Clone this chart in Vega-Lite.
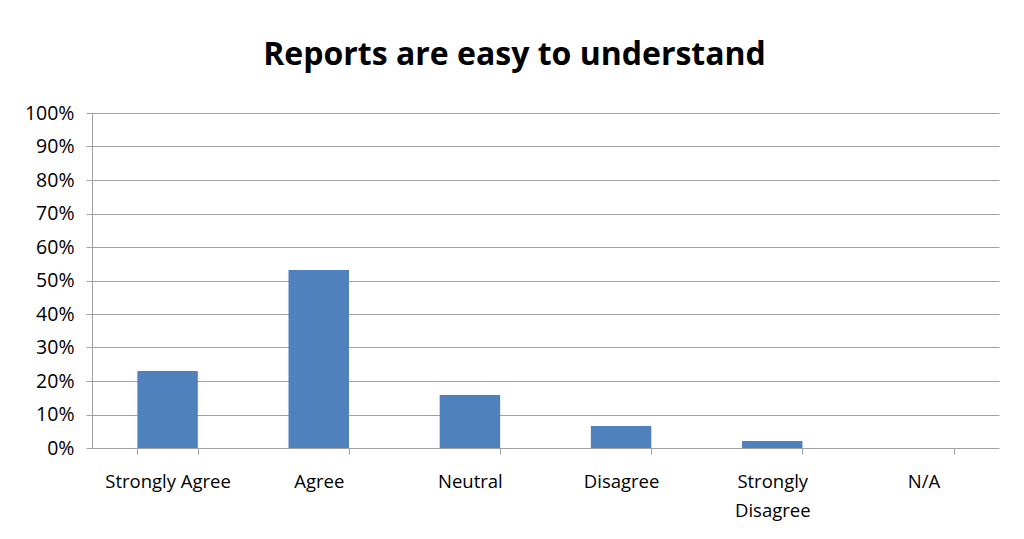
{
  "$schema": "https://vega.github.io/schema/vega-lite/v6.json",
  "autosize": {"type": "none"},
  "width": 907,
  "height": 335,
  "padding": {"left": 92, "top": 113, "right": 25, "bottom": 91},
  "background": "white",
  "title": {
    "text": "Reports are easy to understand",
    "font": "Open Sans",
    "fontSize": 32,
    "fontWeight": "bold",
    "color": "#000000",
    "anchor": "middle",
    "dx": -31,
    "offset": 31
  },
  "data": {
    "values": [
      {"response": "Strongly Agree", "pct": 0.23},
      {"response": "Agree", "pct": 0.531},
      {"response": "Neutral", "pct": 0.158},
      {"response": "Disagree", "pct": 0.066},
      {"response": "Strongly Disagree", "pct": 0.021},
      {"response": "N/A", "pct": 0}
    ]
  },
  "mark": {"type": "bar", "color": "#4F81BD"},
  "encoding": {
    "x": {
      "field": "response",
      "type": "nominal",
      "sort": null,
      "scale": {"paddingInner": 0.6, "paddingOuter": 0.3},
      "axis": {
        "title": null,
        "labelAngle": 0,
        "labelFont": "Open Sans",
        "labelFontSize": 18.5,
        "labelColor": "#000000",
        "labelPadding": 18,
        "labelLineHeight": 29,
        "labelBaseline": "top",
        "labelExpr": "datum.label == 'Strongly Disagree' ? ['Strongly', 'Disagree'] : datum.label",
        "tickBand": "extent",
        "tickSize": 6,
        "tickColor": "#A0A0A0",
        "domain": false,
        "grid": false
      }
    },
    "y": {
      "field": "pct",
      "type": "quantitative",
      "scale": {"domain": [0, 1]},
      "axis": {
        "title": null,
        "format": ".0%",
        "values": [0, 0.1, 0.2, 0.3, 0.4, 0.5, 0.6, 0.7, 0.8, 0.9, 1.0],
        "labelFont": "Open Sans",
        "labelFontSize": 19.5,
        "labelColor": "#000000",
        "labelPadding": 12,
        "tickSize": 6,
        "tickColor": "#A0A0A0",
        "domainColor": "#A0A0A0",
        "gridColor": "#A0A0A0",
        "gridOpacity": 1,
        "grid": true
      }
    }
  },
  "config": {
    "view": {"stroke": null}
  }
}
